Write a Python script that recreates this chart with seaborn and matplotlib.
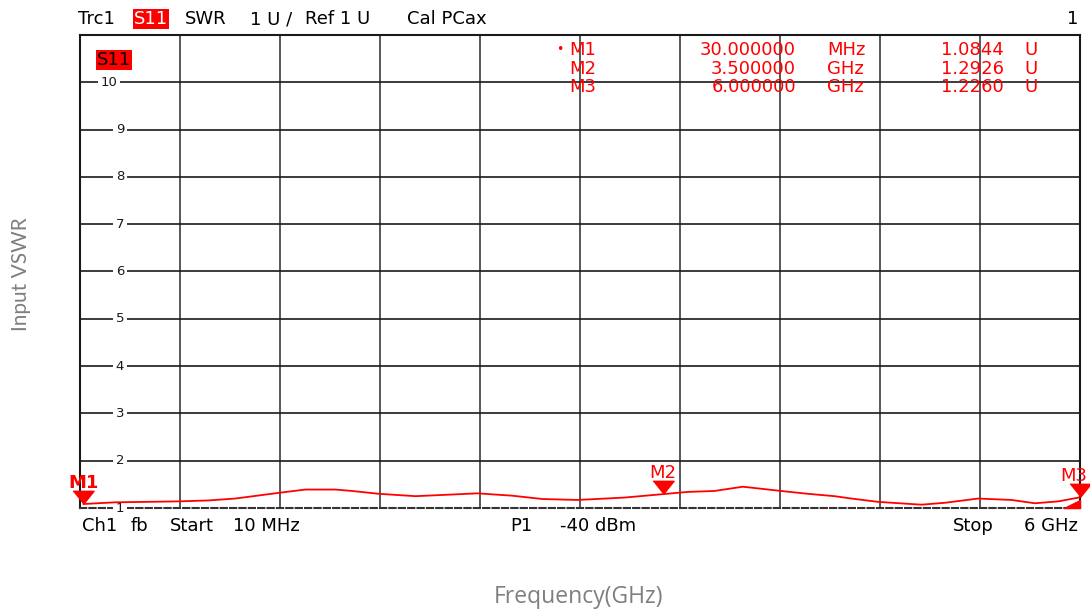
import matplotlib
matplotlib.use("Agg")
import matplotlib.pyplot as plt
import numpy as np
import pandas as pd
import seaborn as sns

# trace S11 SWR
freq_ghz = [0.03, 0.22, 0.60, 0.78, 0.94, 1.20, 1.36, 1.54, 1.64, 1.80, 2.02,
            2.27, 2.39, 2.60, 2.78, 2.99, 3.27, 3.50, 3.65, 3.81, 3.98, 4.21,
            4.37, 4.53, 4.63, 4.79, 5.05, 5.19, 5.39, 5.59, 5.73, 5.87, 6.00]
vswr = [1.0844, 1.12, 1.14, 1.16, 1.20, 1.32, 1.39, 1.39, 1.36, 1.30, 1.25,
        1.29, 1.31, 1.26, 1.19, 1.17, 1.22, 1.2926, 1.34, 1.36, 1.45, 1.36,
        1.30, 1.25, 1.20, 1.13, 1.07, 1.11, 1.20, 1.17, 1.10, 1.14, 1.226]

marker_names = ["M1", "M2", "M3"]
marker_freq = [0.03, 3.5, 6.0]
marker_val = [1.0844, 1.2926, 1.2260]
marker_freq_txt = ["30.000000", "3.500000", "6.000000"]
marker_unit = ["MHz", "GHz", "GHz"]

y_labels = [1, 2, 3, 4, 5, 6, 7, 8, 9, 10]

RED = "#ff0000"
FS = 13

sns.set_style("white")
plt.rcParams["font.family"] = ["DejaVu Sans"]
plt.rcParams["text.color"] = "black"

df = pd.DataFrame({"f": freq_ghz, "swr": vswr})

fig = plt.figure(figsize=(10.9, 6.1), dpi=100)
W, H = 1090, 610
ax = fig.add_axes([80 / W, 1 - 508 / H, 1000 / W, 473 / H])

sns.lineplot(data=df, x="f", y="swr", ax=ax, color=RED, linewidth=1.3, zorder=5)

ax.set_xlim(0.01, 6.0)
ax.set_ylim(1, 11)
ax.set_xticks(np.linspace(0.01, 6.0, 11)[1:-1])
ax.set_yticks(y_labels[1:])
ax.grid(True, axis="x", color="#4a4a4a", linewidth=1.3)
ax.grid(True, axis="y", color="#1a1a1a", linewidth=1.2)
ax.tick_params(length=0, labelbottom=False, labelleft=False)
ax.set_xlabel("")
ax.set_ylabel("")
for side in ["top", "left", "right"]:
    ax.spines[side].set_color("#1a1a1a")
    ax.spines[side].set_linewidth(1.5)
ax.spines["bottom"].set_color("#333333")
ax.spines["bottom"].set_linewidth(1.5)
ax.spines["bottom"].set_linestyle((0, (3, 1.5)))

# y labels sitting on the grid lines
for v in y_labels:
    ax.text(0.040 if v < 10 else 0.029, v, str(v), transform=ax.get_yaxis_transform(),
            ha="center", va="center", fontsize=9.5, color="#1a1a1a",
            bbox=dict(facecolor="white", edgecolor="none", pad=2), zorder=4)

# S11 tag in the grid
ax.text(0.017, 0.948, "S11", transform=ax.transAxes, fontsize=FS,
        color="black", ha="left", va="center",
        bbox=dict(facecolor=RED, edgecolor="none", pad=0.8), zorder=6)

# marker table (pixel anchors from the screenshot)
rows_px = [50, 69, 87]
for name, ft, un, val, yp in zip(marker_names, marker_freq_txt, marker_unit, marker_val, rows_px):
    yy = 1 - yp / H
    kw = dict(fontsize=FS, color=RED, va="center")
    fig.text(569 / W, yy, name, ha="left", **kw)
    fig.text(796 / W, yy, ft, ha="right", **kw)
    fig.text(827 / W, yy, un, ha="left", **kw)
    fig.text(1004 / W, yy, f"{val:.4f}", ha="right", **kw)
    fig.text(1024 / W, yy, "U", ha="left", **kw)
fig.text(556 / W, 1 - rows_px[0] / H, "•", fontsize=9, color=RED, ha="left", va="center")

# marker triangles, tip on the trace
tri = [(-0.8, 1.0), (0.8, 1.0), (0.0, 0.0)]
for name, f, v in zip(marker_names, marker_freq, marker_val):
    ax.plot([f], [v], marker=tri, markersize=19, color=RED, linestyle="none",
            clip_on=False, zorder=7)
    last = name == marker_names[-1]
    ax.annotate(name, (f, v), xytext=(5 if last else 0, 15), textcoords="offset points",
                ha="right" if last else "center", va="center", fontsize=FS, color=RED,
                fontweight="bold" if name == "M1" else "normal",
                annotation_clip=False, zorder=7)

# out-of-range indicator at bottom right
ax.fill([0.984, 1.0, 1.0], [0.0, 0.0, 0.017], color=RED, transform=ax.transAxes,
        clip_on=False, zorder=7)

# header line
hy = 1 - 19 / H
for txt, xp in [("Trc1", 78), ("SWR", 185), ("1 U /", 250), ("Ref 1 U", 305),
                ("Cal PCax", 407)]:
    fig.text(xp / W, hy, txt, fontsize=FS, va="center", ha="left")
fig.text(134 / W, hy, "S11", fontsize=FS, va="center", ha="left", color="white",
         bbox=dict(facecolor=RED, edgecolor="none", pad=0.8))
fig.text(1078 / W, hy, "1", fontsize=FS, va="center", ha="right")

# footer line
fy = 1 - 526 / H
for txt, xp in [("Ch1", 82), ("fb", 131), ("Start", 170), ("10 MHz", 233),
                ("P1", 510), ("-40 dBm", 560), ("Stop", 953)]:
    fig.text(xp / W, fy, txt, fontsize=FS, va="center", ha="left")
fig.text(1078 / W, fy, "6 GHz", fontsize=FS, va="center", ha="right")

# outer axis titles
fig.text(21 / W, 1 - 274 / H, "Input VSWR", rotation=90, fontsize=15,
         color="#7f7f7f", ha="center", va="center", family=["Lato", "DejaVu Sans"])
fig.text(579 / W, 1 - 597 / H, "Frequency(GHz)", fontsize=16.5,
         color="#7f7f7f", ha="center", va="center", family=["Open Sans", "DejaVu Sans"])

fig.savefig("out.png", dpi=100)
plt.close(fig)
